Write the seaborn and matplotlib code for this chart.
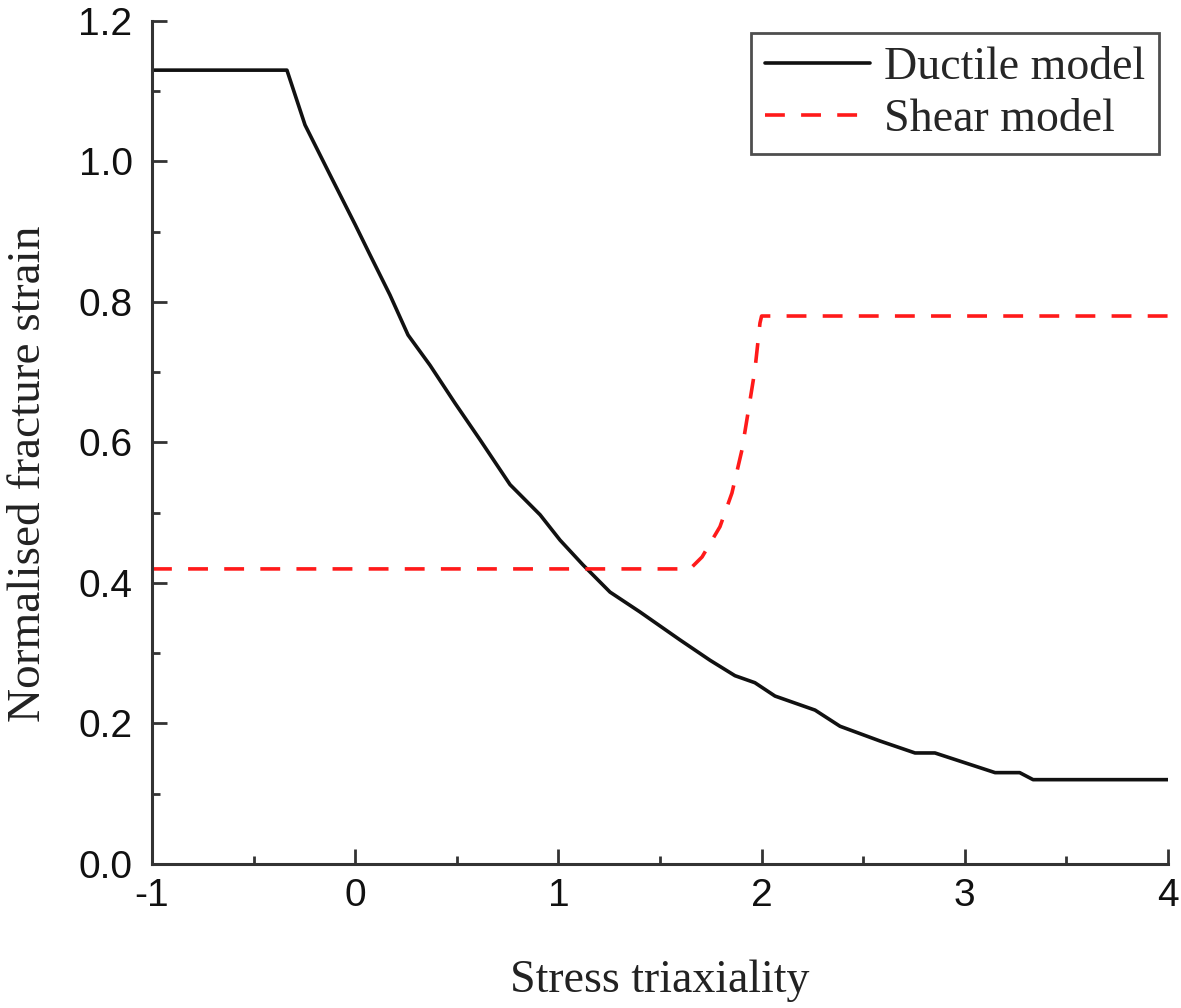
import matplotlib
matplotlib.use("Agg")
import matplotlib.pyplot as plt
import pandas as pd
import seaborn as sns
from matplotlib.ticker import MultipleLocator

# Ductile model
ductile_x = [-1.0, -0.336, -0.247, -0.124, 0.0, 0.073, 0.171, 0.26, 0.368, 0.491,
             0.614, 0.762, 0.91, 1.008, 1.12, 1.254, 1.40, 1.598, 1.746, 1.869,
             1.967, 2.066, 2.263, 2.386, 2.583, 2.755, 2.853, 3.149, 3.27, 3.336, 4.0]
ductile_y = [1.13, 1.13, 1.052, 0.981, 0.91, 0.867, 0.81, 0.753, 0.71, 0.656,
             0.604, 0.54, 0.497, 0.461, 0.426, 0.387, 0.359, 0.319, 0.29, 0.268,
             0.258, 0.239, 0.219, 0.196, 0.175, 0.158, 0.158, 0.13, 0.13, 0.12, 0.12]

# Shear model
shear_x = [-1.0, 1.648, 1.707, 1.795, 1.854, 1.903, 1.933, 1.967, 1.992, 2.0, 4.0]
shear_y = [0.42, 0.42, 0.437, 0.48, 0.528, 0.589, 0.642, 0.703, 0.77, 0.78, 0.78]

x_ticks = [-1, 0, 1, 2, 3, 4]
y_ticks = [0.0, 0.2, 0.4, 0.6, 0.8, 1.0, 1.2]

sns.set_style("ticks")
plt.rcParams["font.family"] = ["Liberation Sans", "DejaVu Sans"]

ductile = pd.DataFrame({"x": ductile_x, "y": ductile_y})
shear = pd.DataFrame({"x": shear_x, "y": shear_y})

fig = plt.figure(figsize=(11.81, 10.08), dpi=100)
ax = fig.add_axes([0.1287, 0.1429, 0.8603, 0.8363])

sns.lineplot(data=ductile, x="x", y="y", ax=ax, color="#111111", lw=2.6,
             estimator=None, sort=False, label="Ductile model")
sns.lineplot(data=shear, x="x", y="y", ax=ax, color="#ff1a1a", lw=2.6,
             estimator=None, sort=False, label="Shear model",
             linestyle=(0, (5.5, 4.5)))

ax.set_xlim(-1, 4)
ax.set_ylim(0, 1.2)
ax.set_xticks(x_ticks)
ax.set_xticklabels([str(t) for t in x_ticks])
ax.set_yticks(y_ticks)
ax.set_yticklabels([f"{t:.1f}" for t in y_ticks])
ax.xaxis.set_minor_locator(MultipleLocator(0.5))
ax.yaxis.set_minor_locator(MultipleLocator(0.1))

for s in ["top", "right"]:
    ax.spines[s].set_visible(False)
for s in ["left", "bottom"]:
    ax.spines[s].set_linewidth(2.2)
    ax.spines[s].set_color("#333333")

ax.tick_params(which="major", direction="in", length=11, width=2.0,
               color="#333333", labelsize=28, labelcolor="#111111")
ax.tick_params(which="minor", direction="in", length=6, width=2.0, color="#333333")
ax.tick_params(axis="x", which="major", pad=10)
ax.tick_params(axis="y", which="major", pad=14)

ax.set_xlabel("Stress triaxiality", fontsize=33, family="Liberation Serif",
              color="#222222")
ax.set_ylabel("Normalised fracture strain", fontsize=34, family="Liberation Serif",
              color="#222222")
ax.xaxis.set_label_coords(0.5, -0.113)
ax.yaxis.set_label_coords(-0.100, 0.4626)

leg = ax.legend(loc="upper right", bbox_to_anchor=(0.991, 0.986),
                prop={"family": "Liberation Serif", "size": 33},
                frameon=True, fancybox=False, edgecolor="#222222",
                handlelength=2.3, borderpad=0.3, labelspacing=0.2,
                handletextpad=0.3, borderaxespad=0.0)
leg.get_frame().set_linewidth(2.0)

fig.savefig("out.png", dpi=100)
